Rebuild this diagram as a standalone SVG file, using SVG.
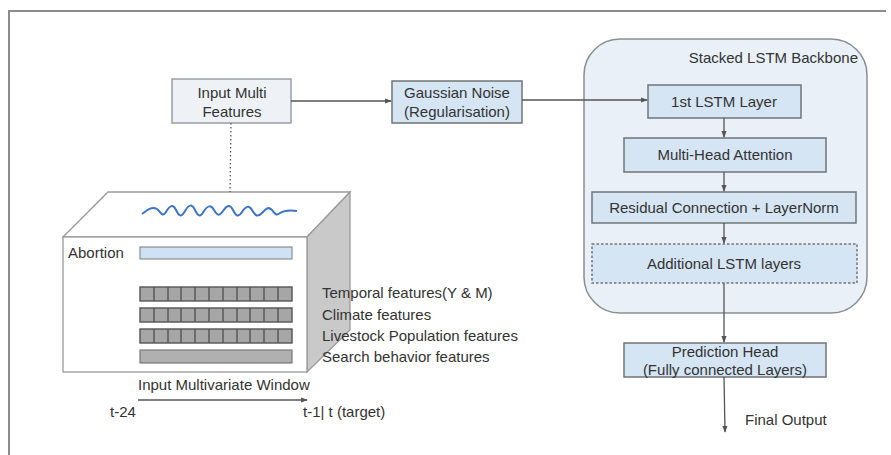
<svg xmlns="http://www.w3.org/2000/svg" width="891" height="455" viewBox="0 0 891 455">
  <style>
    text { font-family: "Liberation Sans", Arial, sans-serif; font-size: 15px; fill: #333; }
    .c { text-anchor: middle; }
    .box { fill: #d5e5f3; stroke: #6f7478; stroke-width: 1.5; }
    .lbox { fill: #eef2f6; stroke: #9a9ea2; stroke-width: 1.5; }
    .edge { fill: none; stroke: #555; stroke-width: 1.3; }
    .cell { fill: #a6a6a6; stroke: #555; stroke-width: 1.4; }
  </style>
  <defs>
    <marker id="arr" viewBox="0 0 8 8" refX="7" refY="4" markerWidth="7" markerHeight="7" markerUnits="userSpaceOnUse" orient="auto">
      <path d="M0,1 L8,4 L0,7 z" fill="#555"/>
    </marker>
  </defs>

  <rect width="891" height="455" fill="#ffffff"/>
  <!-- outer frame -->
  <path d="M9,460 L9,11 L886,11" fill="none" stroke="#8c8c8c" stroke-width="2"/>

  <!-- backbone container -->
  <g id="backbone">
    <rect x="584" y="39" width="283" height="274" rx="36" fill="#e9f0f8" stroke="#8a8e92" stroke-width="1.5"/>
    <text x="858" y="63" text-anchor="end">Stacked LSTM Backbone</text>
  </g>

  <g id="input-features">
    <rect class="lbox" x="172" y="79" width="119" height="44"/>
    <text class="c" x="232" y="98">Input Multi</text>
    <text class="c" x="232" y="117">Features</text>
  </g>

  <g id="gaussian-noise">
    <rect class="box" x="392" y="81" width="130" height="42"/>
    <text class="c" x="457" y="98">Gaussian Noise</text>
    <text class="c" x="457" y="117">(Regularisation)</text>
  </g>

  <g id="lstm1">
    <rect class="box" x="648" y="85" width="153" height="33"/>
    <text class="c" x="724" y="107">1st LSTM Layer</text>
  </g>

  <g id="attention">
    <rect class="box" x="624" y="138" width="202" height="34"/>
    <text class="c" x="725" y="160">Multi-Head Attention</text>
  </g>

  <g id="residual">
    <rect class="box" x="592" y="192" width="264" height="31"/>
    <text class="c" x="724" y="213">Residual Connection + LayerNorm</text>
  </g>

  <g id="additional-lstm">
    <rect x="592" y="244" width="265" height="39" fill="#d5e5f3" stroke="#6f7478" stroke-width="1.5" stroke-dasharray="2.5,2"/>
    <text class="c" x="724" y="269">Additional LSTM layers</text>
  </g>

  <g id="prediction-head">
    <rect class="box" x="624" y="343" width="202" height="34"/>
    <text class="c" x="725" y="357">Prediction Head</text>
    <text class="c" x="725" y="375">(Fully connected Layers)</text>
  </g>

  <g id="final-output">
    <text x="745" y="425">Final Output</text>
  </g>

  <!-- input window cube -->
  <g id="input-window">
    <polygon points="63,237 108,192 350,192 307,237" fill="#ffffff" stroke="#9a9a9a" stroke-width="1.3"/>
    <polygon points="307,237 350,192 350,330 307,372" fill="#c9c9c9" stroke="#9a9a9a" stroke-width="1.3"/>
    <rect x="63" y="237" width="244" height="135" fill="#ffffff" stroke="#9a9a9a" stroke-width="1.3"/>
    <path d="M142,214 C147,210 152,206 157,209 C161,212 162,218 166,212 C170,205 173,204 176,210 C179,216 181,218 185,211 C189,204 192,204 195,210 C198,216 200,218 204,211 C208,205 211,205 214,210 C217,215 219,217 223,211 C227,205 230,204 233,210 C236,216 238,218 242,212 C246,206 249,205 252,210 C255,215 257,218 262,213 C266,209 268,206 272,210 C275,214 276,216 280,213 C285,210 291,210 297,211" fill="none" stroke="#3d73c9" stroke-width="2"/>
    <text x="68" y="258">Abortion</text>
    <rect x="140" y="247" width="152" height="12" fill="#cfe2f3" stroke="#8a8e92" stroke-width="1.2"/>
    <!-- segmented feature rows -->
    <rect class="cell" x="140" y="287" width="152" height="14"/>
    <rect class="cell" x="140" y="308" width="152" height="14"/>
    <rect class="cell" x="140" y="329" width="152" height="14"/>
    <path d="M154,287 v14 M168,287 v14 M181,287 v14 M195,287 v14 M209,287 v14 M223,287 v14 M237,287 v14 M250,287 v14 M264,287 v14 M278,287 v14
             M154,308 v14 M168,308 v14 M181,308 v14 M195,308 v14 M209,308 v14 M223,308 v14 M237,308 v14 M250,308 v14 M264,308 v14 M278,308 v14
             M154,329 v14 M168,329 v14 M181,329 v14 M195,329 v14 M209,329 v14 M223,329 v14 M237,329 v14 M250,329 v14 M264,329 v14 M278,329 v14" stroke="#555" stroke-width="1.4"/>
    <rect x="140" y="350" width="152" height="13" fill="#b0b0b0" stroke="#777" stroke-width="1.2"/>
  </g>

  <g id="feature-labels">
    <text x="322" y="298">Temporal features(Y &amp; M)</text>
    <text x="322" y="320">Climate features</text>
    <text x="322" y="341">Livestock Population features</text>
    <text x="322" y="362">Search behavior features</text>
  </g>

  <g id="window-axis">
    <text x="138" y="390">Input Multivariate Window</text>
    <text x="110" y="417">t-24</text>
    <text x="303" y="417">t-1| t (target)</text>
  </g>

  <!-- connectors -->
  <g id="connectors">
    <line class="edge" x1="231" y1="123" x2="230" y2="192" stroke="#999" stroke-dasharray="1.5,2.5"/>
    <line class="edge" x1="291" y1="101" x2="391" y2="101" marker-end="url(#arr)"/>
    <line class="edge" x1="522" y1="100" x2="647" y2="100" marker-end="url(#arr)"/>
    <line class="edge" x1="724" y1="118" x2="724" y2="137" marker-end="url(#arr)"/>
    <line class="edge" x1="724" y1="172" x2="724" y2="191" marker-end="url(#arr)"/>
    <line class="edge" x1="724" y1="223" x2="724" y2="243" marker-end="url(#arr)"/>
    <line class="edge" x1="724" y1="283" x2="724" y2="342" marker-end="url(#arr)"/>
    <line class="edge" x1="724" y1="377" x2="725" y2="432" marker-end="url(#arr)"/>
    <line class="edge" x1="138" y1="400" x2="307" y2="400" stroke="#777" stroke-width="1" marker-end="url(#arr)"/>
  </g>
</svg>
